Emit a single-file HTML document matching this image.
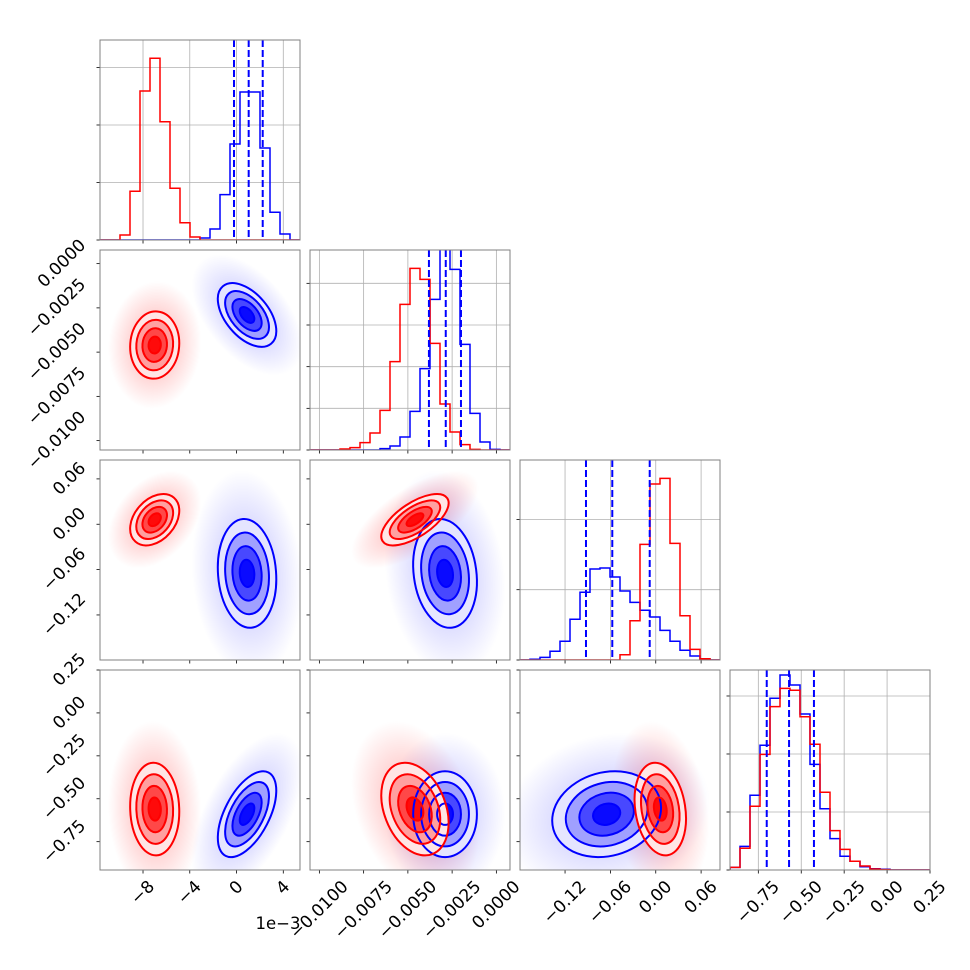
<!DOCTYPE html>
<html><head><meta charset="utf-8"><style>
html,body{margin:0;padding:0;background:#fff;}
svg{display:block;font-family:"DejaVu Sans","Liberation Sans",sans-serif;}
</style></head><body>
<svg id="chart" width="970" height="970" viewBox="0 0 970 970" xmlns="http://www.w3.org/2000/svg">
<defs>
<radialGradient id="cloud-red"><stop offset="0" stop-color="#ff0000" stop-opacity="0.3"/><stop offset="0.55" stop-color="#ff0000" stop-opacity="0.15"/><stop offset="1" stop-color="#ff0000" stop-opacity="0"/></radialGradient>
<radialGradient id="cloud-blue"><stop offset="0" stop-color="#0000ff" stop-opacity="0.25"/><stop offset="0.55" stop-color="#0000ff" stop-opacity="0.12"/><stop offset="1" stop-color="#0000ff" stop-opacity="0"/></radialGradient>
</defs>
<text x="300.5" y="929" font-size="16.5" text-anchor="end">1e−3</text>
</svg>
<script>
// ---- data ----
const nBins = 20;
const axisRanges = [[-11.68, 5.43], [-0.01053, 0.00077], [-0.1796, 0.085], [-0.915, 0.25]];
const redHist0 = [0,0,87,847,2591,3160,2057,899,301,52,0,0,0,0,0,0,0,0,0,0];
const blueHist0 = [0,0,0,0,0,0,0,0,0,0,35,191,788,1670,2574,2574,1600,482,104,0];
const redHist1 = [0,0,0,12,28,88,204,476,1060,1748,2180,2048,1280,552,216,64,8,0,0,0];
const blueHist1 = [0,0,0,0,0,0,0,16,48,156,464,976,1808,2640,2168,1268,440,96,8,0];
const redHist2 = [0,0,0,0,0,0,0,0,0,0,75,559,1645,2503,2584,1659,630,152,18,0];
const blueHist2 = [0,10,38,124,266,579,963,1294,1308,1180,981,820,707,611,422,266,138,57,14,0];
const redHist3 = [23,187,549,997,1408,1566,1549,1321,1084,670,339,178,75,34,9,3,0,0,0,0];
const blueHist3 = [23,204,644,1075,1480,1681,1595,1345,911,528,270,118,75,28,11,6,0,0,0,0];
const histMax = [3478, 2400, 2845, 1724];
const histTickStep = [1000, 500, 1000, 500];
const blueQuant0 = [-0.216, 1.04, 2.24];
const blueQuant1 = [-0.00381, -0.00286, -0.0020];
const blueQuant2 = [-0.0923, -0.0575, -0.008];
const blueQuant3 = [-0.701, -0.571, -0.426];
const redMean = [-7.0, -0.0046, 0.006, -0.56];
const redSd = [1.05, 0.00095, 0.017, 0.135];
const blueMean = [0.9, -0.0029, -0.065, -0.59];
const blueSd = [1.25, 0.0009, 0.036, 0.125];
// correlation pairs order: 01,02,03,12,13,23
const redCorr = [0.05, 0.35, -0.05, 0.65, -0.3, -0.2];
const blueCorr = [-0.5, -0.1, 0.55, -0.15, 0.0, 0.15];
const tickValues0 = [-8, -4, 0, 4];
const tickLabels0 = ["−8", "−4", "0", "4"];
const tickValues1 = [-0.01, -0.0075, -0.005, -0.0025, 0];
const tickLabels1 = ["−0.0100", "−0.0075", "−0.0050", "−0.0025", "0.0000"];
const tickValues2 = [-0.12, -0.06, 0, 0.06];
const tickLabels2 = ["−0.12", "−0.06", "0.00", "0.06"];
const tickValues3 = [-0.75, -0.5, -0.25, 0, 0.25];
const tickLabels3 = ["−0.75", "−0.50", "−0.25", "0.00", "0.25"];

const redHists = [redHist0, redHist1, redHist2, redHist3];
const blueHists = [blueHist0, blueHist1, blueHist2, blueHist3];
const blueQuants = [blueQuant0, blueQuant1, blueQuant2, blueQuant3];
const tickVals = [tickValues0, tickValues1, tickValues2, tickValues3];
const tickLabs = [tickLabels0, tickLabels1, tickLabels2, tickLabels3];
const NS = "http://www.w3.org/2000/svg";
const svg = document.getElementById('chart');
const P0X = 100, P0Y = 40, PS = 200, GAP = 210, FS = 17;

function mk(tag, attrs, parent) {
  const e = document.createElementNS(NS, tag);
  for (const k in attrs) e.setAttribute(k, attrs[k]);
  (parent || svg).appendChild(e);
  return e;
}
function sx(c, v) { const r = axisRanges[c]; return P0X + c * GAP + (v - r[0]) / (r[1] - r[0]) * PS; }
function sy(r, v) { const a = axisRanges[r]; return P0Y + r * GAP + (a[1] - v) / (a[1] - a[0]) * PS; }
function pairIdx(i, j) { const m = {"01":0,"02":1,"03":2,"12":3,"13":4,"23":5}; return m["" + Math.min(i,j) + Math.max(i,j)]; }

for (let r = 0; r < 4; r++) {
  for (let c = 0; c <= r; c++) {
    const L = P0X + c * GAP, T = P0Y + r * GAP;
    const g = mk('g', {});
    
    
    const cp = mk('clipPath', {id: 'clip' + r + c}, g);
    mk('rect', {x: L, y: T, width: PS, height: PS}, cp);
    const inner = mk('g', {'clip-path': 'url(#clip' + r + c + ')'}, g);
    if (r === c) {
      const ymax = histMax[c];
      const yv = v => T + PS - v / ymax * PS;
      tickVals[c].forEach(v => {
        const ln = mk('line', {x1: sx(c, v), x2: sx(c, v), y1: T, y2: T + PS, stroke: '#b0b0b0', 'stroke-width': 0.8}, inner);
        
        
      });
      for (let t = histTickStep[c]; t < ymax; t += histTickStep[c]) {
        const ln = mk('line', {x1: L, x2: L + PS, y1: yv(t), y2: yv(t), stroke: '#b0b0b0', 'stroke-width': 0.8}, inner);
        
        
        const tk = mk('line', {x1: L - 3.5, x2: L, y1: yv(t), y2: yv(t), stroke: '#000', 'stroke-width': 0.8}, g);
        
        
      }
      const tk0 = mk('line', {x1: L - 3.5, x2: L, y1: T + PS, y2: T + PS, stroke: '#000', 'stroke-width': 0.8}, g);
      
      
      const rng = axisRanges[c];
      const bw = (rng[1] - rng[0]) / nBins;
      [['blue', blueHists[c]], ['red', redHists[c]]].forEach(([col, h]) => {
        let d = 'M' + sx(c, rng[0]) + ',' + (T + PS);
        for (let i = 0; i < nBins; i++) {
          const x0 = sx(c, rng[0] + i * bw), x1 = sx(c, rng[0] + (i + 1) * bw);
          d += ' L' + x0 + ',' + yv(h[i]) + ' L' + x1 + ',' + yv(h[i]);
        }
        d += ' L' + sx(c, rng[1]) + ',' + (T + PS);
        const p = mk('path', {d: d, fill: 'none', stroke: col === 'red' ? '#ff0000' : '#0000ff', 'stroke-width': 1.5}, inner);
        
        
      });
      blueQuants[c].forEach(q => {
        const ln = mk('line', {x1: sx(c, q), x2: sx(c, q), y1: T, y2: T + PS, stroke: '#0000ff', 'stroke-width': 2, 'stroke-dasharray': '7,3'}, inner);
        
        
      });
    } else {
      const pi = pairIdx(r, c);
      const blobs = [
        {name: 'red', col: '#ff0000', m: redMean, s: redSd, rho: redCorr[pi]},
        {name: 'blue', col: '#0000ff', m: blueMean, s: blueSd, rho: blueCorr[pi]}
      ];
      const geo = blobs.map(b => {
        const cx = sx(c, b.m[c]), cy = sy(r, b.m[r]);
        const spx = b.s[c] / (axisRanges[c][1] - axisRanges[c][0]) * PS;
        const spy = b.s[r] / (axisRanges[r][1] - axisRanges[r][0]) * PS;
        const a = spx * spx, cc = spy * spy, bb = -b.rho * spx * spy;
        const mid = (a + cc) / 2, dd = Math.sqrt(((a - cc) / 2) ** 2 + bb * bb);
        const l1 = mid + dd, l2 = Math.max(mid - dd, 1e-6);
        const ang = 0.5 * Math.atan2(2 * bb, a - cc) * 180 / Math.PI;
        return {cx, cy, r1: Math.sqrt(l1), r2: Math.sqrt(l2), ang};
      });
      function ell(gm, k, attrs, name) {
        const e = mk('ellipse', Object.assign({cx: gm.cx, cy: gm.cy, rx: k * gm.r1, ry: k * gm.r2,
          transform: 'rotate(' + gm.ang + ' ' + gm.cx + ' ' + gm.cy + ')'}, attrs), inner);
        
        
      }
      blobs.forEach((b, i) => ell(geo[i], 3.8, {fill: 'url(#cloud-' + b.name + ')'}, b.name + '-scatter-cloud'));
      [1, 0].forEach(i => {
        const b = blobs[i];
        ell(geo[i], 2, {fill: '#ffffff'}, b.name + '-density-base');
        ell(geo[i], 2, {fill: b.col, 'fill-opacity': 0.1}, b.name + '-density-fill');
        ell(geo[i], 1.5, {fill: b.col, 'fill-opacity': 0.3}, b.name + '-density-fill');
        ell(geo[i], 1, {fill: b.col, 'fill-opacity': 0.55}, b.name + '-density-fill');
        ell(geo[i], 0.5, {fill: b.col, 'fill-opacity': 0.85}, b.name + '-density-fill');
      });
      [1, 0].forEach(i => {
        const b = blobs[i];
        [2, 1.5, 1, 0.5].forEach(k => ell(geo[i], k, {fill: 'none', stroke: b.col, 'stroke-width': 2}, b.name + '-contour'));
      });
      tickVals[r].forEach(v => {
        const y = sy(r, v);
        if (y < T - 0.5 || y > T + PS + 0.5) return;
        const tk = mk('line', {x1: L - 3.5, x2: L, y1: y, y2: y, stroke: '#000', 'stroke-width': 0.8}, g);
        
        
      });
    }
    tickVals[c].forEach(v => {
      const x = sx(c, v);
      if (x < L - 0.5 || x > L + PS + 0.5) return;
      const tk = mk('line', {x1: x, x2: x, y1: T + PS, y2: T + PS + 3.5, stroke: '#000', 'stroke-width': 0.8}, g);
      
      
    });
    const fr = mk('rect', {x: L, y: T, width: PS, height: PS, fill: 'none', stroke: '#808080', 'stroke-width': 1}, g);
    
    
  }
}
function label(txt, cxp, cyp, name) {
  const t = mk('text', {x: 0, y: 0, 'font-size': FS, 'text-anchor': 'middle', 'dominant-baseline': 'central'});
  t.textContent = txt;
  
  
  const w = t.getComputedTextLength();
  const W = (w + FS * 1.0) * 0.7071;
  const pos = cxp(W), py = cyp(W);
  t.setAttribute('x', pos); t.setAttribute('y', py);
  t.setAttribute('transform', 'rotate(-45 ' + pos + ' ' + py + ')');
}
for (let c = 0; c < 4; c++) {
  tickVals[c].forEach((v, i) => {
    const x = sx(c, v);
    label(tickLabs[c][i], W => x, W => 878 + W / 2, 'x-tick-label');
  });
}
for (let r = 1; r < 4; r++) {
  tickVals[r].forEach((v, i) => {
    const y = sy(r, v);
    label(tickLabs[r][i], W => 89 - W / 2, W => y, 'y-tick-label');
  });
}
</script>
</body></html>
